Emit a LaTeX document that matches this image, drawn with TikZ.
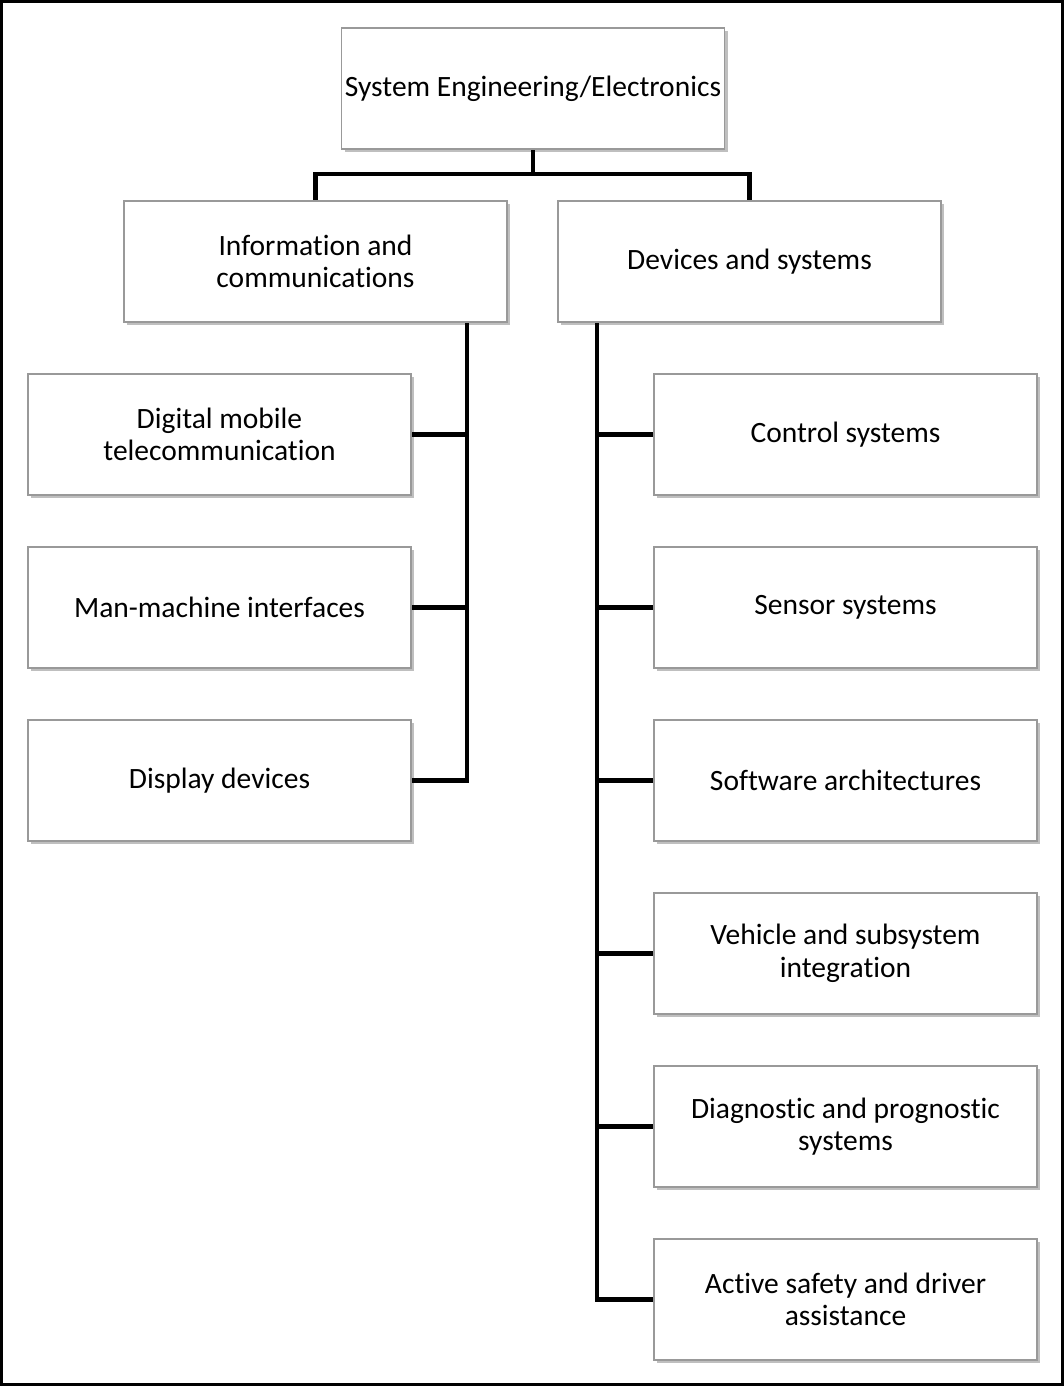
\documentclass[tikz,border=0pt]{standalone}
\usepackage{fontspec}
\setmainfont[Ligatures=NoCommon]{Carlito}
\usetikzlibrary{shadows,backgrounds}
\begin{document}
\begin{tikzpicture}[x=1pt,y=-1pt,
  box/.style={draw=black!40, line width=1.2pt, fill=white,
    minimum width=383pt, minimum height=121pt, align=center, inner sep=0pt,
    font=\fontsize{29.5}{32.5}\selectfont,
    drop shadow={shadow xshift=3pt, shadow yshift=-3pt, fill=black, opacity=0.25}},
  link/.style={line width=4.5pt, line cap=rect}]
\useasboundingbox (0,0) rectangle (1064,1386);
\draw[line width=2.5pt] (1.5,1.5) rectangle (1062.5,1384.5);

% root and the two branches
\node[box] (root) at (533,88.5) {System Engineering/Electronics};
\node[box] (info) at (315.5,261.5) {Information and\\communications};
\node[box] (dev)  at (749.5,261.5) {Devices and systems};

% left column
\node[box] (l1) at (219.5,434.5) {Digital mobile\\telecommunication};
\node[box] (l2) at (219.5,607.5) {Man-machine interfaces};
\node[box] (l3) at (219.5,780.5) {Display devices};

% right column
\node[box] (r1) at (845.5,434.5) {Control systems};
\node[box] (r2) at (845.5,607.5) {Sensor systems};
\node[box] (r3) at (845.5,780.5) {Software architectures};
\node[box] (r4) at (845.5,953.5) {Vehicle and subsystem\\integration};
\node[box] (r5) at (845.5,1126.5) {Diagnostic and prognostic\\systems};
\node[box] (r6) at (845.5,1299.5) {Active safety and driver\\assistance};

\begin{scope}[on background layer]
% connectors from the root
\coordinate (bar) at (533,174);
\draw[link] (root.south) -- (bar);
\draw[link] (info.north) |- (bar) -| (dev.north);

% left trunk
\coordinate (lt) at (467,322);
\draw[link] (lt) -- (lt |- l3.east) -- (l3.east);
\draw[link] (l1.east) -- (lt |- l1.east);
\draw[link] (l2.east) -- (lt |- l2.east);

% right trunk
\coordinate (rt) at (597,322);
\draw[link] (rt) -- (rt |- r6.west) -- (r6.west);
\foreach \n in {r1,r2,r3,r4,r5}
  \draw[link] (\n.west) -- (rt |- \n.west);
\end{scope}
\end{tikzpicture}
\end{document}
